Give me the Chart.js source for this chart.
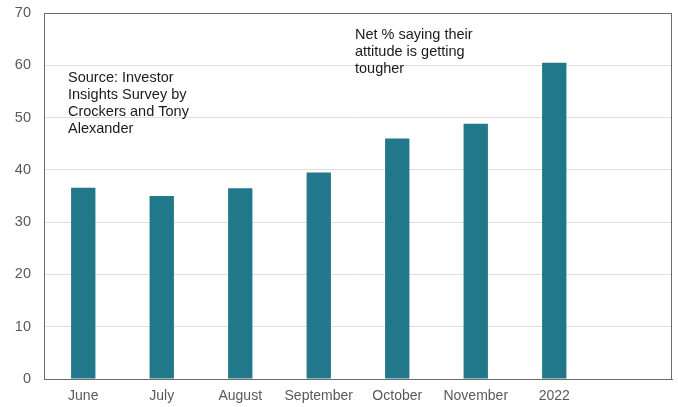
<!DOCTYPE html>
<html>
<head>
<meta charset="utf-8">
<script src="https://cdn.jsdelivr.net/npm/chart.js@4/dist/chart.umd.min.js"></script>
<style>
  html, body { margin: 0; padding: 0; background: #fff; }
  #wrap { width: 678px; height: 407px; position: relative; }
</style>
</head>
<body>
<div id="wrap"><canvas id="investorChart"></canvas></div>
<script>
// months surveyed, last slot left empty on purpose
const categories = ["June", "July", "August", "September", "October", "November", "2022", ""];
const netTougher = [36.6, 35.0, 36.5, 39.5, 46.0, 48.8, 60.5, null];
const yTicks = [0, 10, 20, 30, 40, 50, 60, 70];

const sourceNote = ["Source: Investor", "Insights Survey by", "Crockers and Tony", "Alexander"];
const seriesNote = ["Net % saying their", "attitude is getting", "tougher"];

const FONT = "'Liberation Sans', Arial, sans-serif";

// box around the plot + the two text notes
const framePlugin = {
    id: "frame",
    afterDraw(chart) {
        const { ctx, chartArea: a } = chart;
        ctx.save();
        ctx.strokeStyle = "#6b6b6b";
        ctx.lineWidth = 1;
        ctx.strokeRect(a.left + 0.5, a.top + 0.5, a.right - a.left - 1, a.bottom - a.top);

        ctx.fillStyle = "#1a1a1a";
        ctx.font = "14.5px " + FONT;
        ctx.textBaseline = "middle";
        ctx.textAlign = "left";
        sourceNote.forEach((line, i) => ctx.fillText(line, a.left + 24, a.top + 65 + i * 17));
        seriesNote.forEach((line, i) => ctx.fillText(line, a.left + 311, a.top + 22 + i * 17));
        ctx.restore();
    }
};

new Chart(document.getElementById("investorChart"), {
    type: "bar",
    data: {
        labels: categories,
        datasets: [{
            data: netTougher,
            backgroundColor: "#20788a",
            barPercentage: 0.62,
            categoryPercentage: 0.5
        }]
    },
    options: {
        responsive: true,
        maintainAspectRatio: false,
        animation: false,
        layout: { padding: { top: 13, right: 6, left: 0, bottom: 0 } },
        plugins: {
            legend: { display: false },
            tooltip: { enabled: false }
        },
        scales: {
            x: {
                grid: { display: false, drawTicks: false },
                border: { display: true, color: "#6b6b6b" },
                ticks: {
                    color: "#595959",
                    font: { family: FONT, size: 14 },
                    padding: 9,
                    maxRotation: 0,
                    autoSkip: false
                },
                afterFit(scale) { scale.height = 28; }
            },
            y: {
                min: 0,
                max: 70,
                afterBuildTicks(scale) { scale.ticks = yTicks.map(v => ({ value: v })); },
                grid: { color: "#dedede", drawTicks: false },
                border: { display: true, color: "#6b6b6b" },
                ticks: {
                    color: "#595959",
                    font: { family: FONT, size: 14.5 },
                    padding: 13
                },
                afterFit(scale) {
                    scale.width = 44;
                    // tick padding is horizontal only here
                    scale.paddingTop = 0;
                    scale.paddingBottom = 0;
                }
            }
        }
    },
    plugins: [framePlugin]
});
</script>
</body>
</html>
